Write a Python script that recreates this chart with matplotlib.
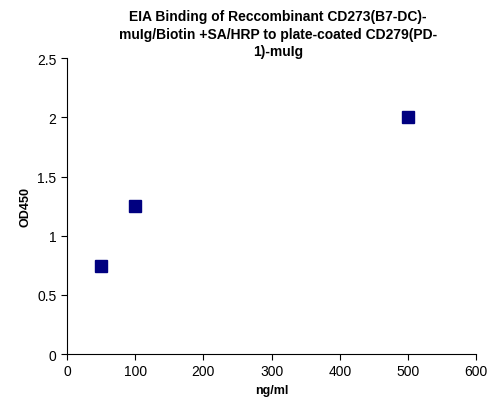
import matplotlib
matplotlib.use('Agg')
import matplotlib.pyplot as plt

conc = [50, 100, 500]
od450 = [0.74, 1.25, 2.0]
xticks = [0, 100, 200, 300, 400, 500, 600]
yticks = [0, 0.5, 1, 1.5, 2, 2.5]

plt.rcParams['font.family'] = ['Liberation Sans', 'DejaVu Sans']
fig = plt.figure(figsize=(4.96, 4.14), dpi=100)
ax = fig.add_axes([0.135, 0.1425, 0.825, 0.7145])

ax.plot(conc, od450, linestyle='none', marker='s', markersize=8,
        color='#000080')

ax.set_xlim(0, 600)
ax.set_ylim(0, 2.5)
ax.set_xticks(xticks)
ax.set_yticks(yticks)
ax.set_yticklabels(['0', '0.5', '1', '1.5', '2', '2.5'])
ax.tick_params(labelsize=10, direction='out', length=4)
ax.spines['top'].set_visible(False)
ax.spines['right'].set_visible(False)

ax.set_xlabel('ng/ml', fontsize=9, fontweight='bold')
ax.set_ylabel('OD450', fontsize=9, fontweight='bold')
fig.text(0.56, 0.975,
         'EIA Binding of Reccombinant CD273(B7-DC)-\nmuIg/Biotin +SA/HRP to plate-coated CD279(PD-\n1)-muIg',
         ha='center', va='top', fontsize=10, fontweight='bold', linespacing=1.3)

fig.savefig('out.png', dpi=100)
